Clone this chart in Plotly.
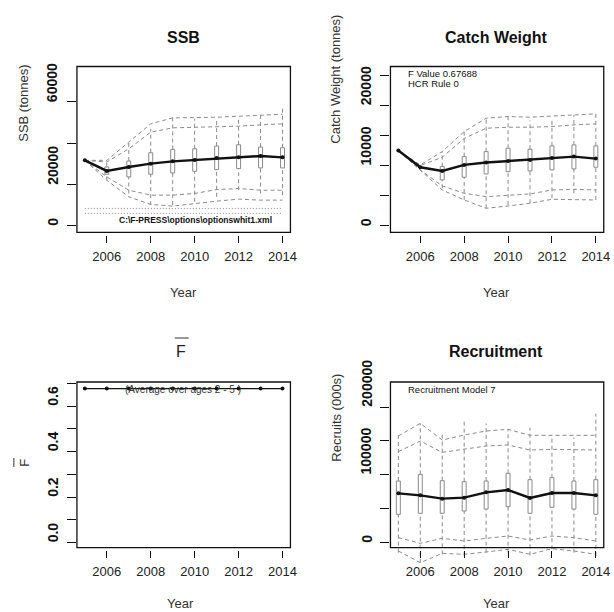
import plotly.graph_objects as go

W, H = 614, 612
FONT = "Liberation Sans, Arial, sans-serif"

years = [2005, 2006, 2007, 2008, 2009, 2010, 2011, 2012, 2013, 2014]
xtick_years = [2006, 2008, 2010, 2012, 2014]

# ---- SSB (tonnes) ----
ssb_median = [31760, 26630, 28550, 30160, 31280, 31920, 32880, 33200, 33840, 33200]
ssb_q1 = [None, 25020, 23740, 25020, 25660, 26470, 27270, 27750, 28070, 28070]
ssb_q3 = [None, 28550, 31440, 35450, 37050, 37370, 38660, 39300, 38180, 37850]
ssb_wlo = [None, 22140, 15720, 10100, 10100, 11710, 14120, 17320, 15720, 14920]
ssb_whi = [None, 30960, 41380, 47000, 52610, 51810, 51010, 51810, 54220, 56940]
ssb_env_uo = [31760, 31760, 40580, 49400, 52290, 52290, 52610, 53090, 53410, 54050]
ssb_env_ui = [31760, 30960, 37370, 45390, 47480, 47800, 47800, 48280, 48920, 49400]
ssb_env_li = [31760, 23740, 17320, 14920, 14920, 15720, 17640, 18120, 17320, 17320]
ssb_env_lo = [31760, 22140, 14120, 10430, 9620, 10910, 12030, 12990, 12510, 12510]
ssb_refpts = [8500, 6100]
ssb_ticks = [0, 20000, 40000, 60000]
ssb_labels = [0, 20000, 60000]

# ---- Catch weight (tonnes) ----
catch_median = [12520, 9750, 9140, 10140, 10530, 10800, 10970, 11300, 11520, 11190]
catch_q1 = [None, None, 7650, 8090, 8640, 9030, 9140, 9310, 9470, 9750]
catch_q3 = [None, None, 9860, 11520, 12350, 12910, 12740, 13300, 13460, 13300]
catch_wlo = [None, None, 6260, 4320, 2940, 3490, 3770, 4600, 5430, 4320]
catch_whi = [None, None, 12350, 15840, 17890, 18450, 17510, 17510, 18450, 18730]
catch_env_uo = [12520, 10140, 12350, 15670, 17890, 18170, 18060, 18280, 18450, 18620]
catch_env_ui = [12520, 10030, 11410, 14540, 16230, 16400, 16400, 16510, 16790, 16950]
catch_env_li = [12520, 9310, 6650, 5430, 4870, 5150, 5320, 5980, 6090, 5980]
catch_env_lo = [12520, 9200, 5980, 4320, 2940, 3320, 3770, 4430, 4430, 4320]
catch_ticks = [0, 5000, 10000, 15000, 20000, 25000]
catch_labels = [0, 10000, 20000]

# ---- Mean F ----
f_values = [0.677, 0.677, 0.677, 0.677, 0.677, 0.677, 0.677, 0.677, 0.677, 0.677]
f_ticks = [0.0, 0.1, 0.2, 0.3, 0.4, 0.5, 0.6, 0.7]
f_labels = ["0.0", "0.2", "0.4", "0.6"]
f_label_vals = [0.0, 0.2, 0.4, 0.6]

# ---- Recruitment (000s) ----
rec_median = [72730, 69780, 64860, 66340, 74200, 77640, 65850, 73220, 73220, 69780]
rec_q1 = [41770, 43240, 43240, 46680, 49630, 53070, 43240, 52090, 49630, 41770]
rec_q3 = [90910, 100740, 91400, 89930, 90910, 102210, 92870, 95820, 90910, 92870]
rec_wlo = [-14740, -29480, -17200, -19660, -14740, -14740, -18670, -9830, -14740, -19660]
rec_whi = [159700, 175900, 160700, 181800, 175900, 167100, 169500, 154800, 154800, 190200]
rec_env_uo = [157250, 175920, 151350, 158720, 164620, 167080, 158230, 158230, 158230, 158230]
rec_env_ui = [134150, 149880, 133170, 137590, 142510, 143980, 136610, 137590, 136610, 136610]
rec_env_li = [7370, -980, 6390, 2460, 6390, 9830, 3930, 9830, 7370, 2460]
rec_env_lo = [-12290, -29480, -15720, -17200, -13760, -9830, -17200, -8850, -12290, -17200]
rec_ticks = [0, 50000, 100000, 150000, 200000]
rec_labels = [0, 100000, 200000]

GRAY = "#8a8a8a"
DASH = "4px,3px"
BOX_HALF = 0.09


def px_x(p):
    return p / W


def px_y(p):
    return 1 - p / H


fig = go.Figure()


def add_panel(xa, ya, med, q1, q3, wlo, whi, envs):
    for env in envs:
        fig.add_trace(go.Scatter(x=years, y=env, mode="lines", xaxis=xa, yaxis=ya,
                                 line=dict(color=GRAY, width=1, dash=DASH), hoverinfo="skip"))
    wx, wy = [], []
    for yr, a, b, lo, hi in zip(years, q1, q3, wlo, whi):
        if lo is None or hi is None:
            continue
        if a is None:
            wx += [yr, yr, None]
            wy += [lo, hi, None]
        else:
            wx += [yr, yr, None, yr, yr, None]
            wy += [b, hi, None, lo, a, None]
    fig.add_trace(go.Scatter(x=wx, y=wy, mode="lines", xaxis=xa, yaxis=ya,
                             line=dict(color=GRAY, width=1, dash=DASH), hoverinfo="skip"))
    bx, by = [], []
    for yr, a, b in zip(years, q1, q3):
        if a is None:
            continue
        bx += [yr - BOX_HALF, yr + BOX_HALF, yr + BOX_HALF, yr - BOX_HALF, yr - BOX_HALF, None]
        by += [a, a, b, b, a, None]
    fig.add_trace(go.Scatter(x=bx, y=by, mode="lines", xaxis=xa, yaxis=ya,
                             line=dict(color=GRAY, width=1), hoverinfo="skip"))
    fig.add_trace(go.Scatter(x=years, y=med, mode="lines+markers", xaxis=xa, yaxis=ya,
                             line=dict(color="#111111", width=2.4),
                             marker=dict(color="#111111", size=4), hoverinfo="skip"))


add_panel("x", "y", ssb_median, ssb_q1, ssb_q3, ssb_wlo, ssb_whi,
          [ssb_env_uo, ssb_env_ui, ssb_env_li, ssb_env_lo])
for ref in ssb_refpts:
    fig.add_trace(go.Scatter(x=[years[0], years[-1]], y=[ref, ref], mode="lines", xaxis="x", yaxis="y",
                             line=dict(color=GRAY, width=1, dash="1px,2px"), hoverinfo="skip"))
add_panel("x2", "y2", catch_median, catch_q1, catch_q3, catch_wlo, catch_whi,
          [catch_env_uo, catch_env_ui, catch_env_li, catch_env_lo])
fig.add_trace(go.Scatter(x=years, y=f_values, mode="lines+markers", xaxis="x3", yaxis="y3",
                         line=dict(color="#111111", width=1.3),
                         marker=dict(color="#111111", size=4), hoverinfo="skip"))
add_panel("x4", "y4", rec_median, rec_q1, rec_q3, rec_wlo, rec_whi,
          [rec_env_uo, rec_env_ui, rec_env_li, rec_env_lo])

# panel geometry (pixels)
LEFT = (77.7, 293.3)
RIGHT = (394.3, 609.7)
TOP = (66.5, 232.3)
BOT = (382.0, 547.7)
XR = [2004.64, 2014.36]

xcommon = dict(range=XR, tickvals=xtick_years, ticks="outside", ticklen=7, tickwidth=1.2,
               tickcolor="#111", showline=False, showgrid=False, zeroline=False,
               tickfont=dict(family=FONT, size=13, color="#222"), ticklabelstandoff=2,
               anchor="free")
ycommon = dict(ticks="outside", ticklen=9, tickwidth=1.2, tickcolor="#111", showline=False,
               showgrid=False, zeroline=False, showticklabels=False)

layout = dict(
    width=W, height=H, autosize=False, margin=dict(l=0, r=0, t=0, b=0),
    paper_bgcolor="white", plot_bgcolor="white", showlegend=False,
    font=dict(family=FONT),
    xaxis=dict(domain=[px_x(LEFT[0]), px_x(LEFT[1])], position=px_y(235), **xcommon),
    yaxis=dict(domain=[px_y(TOP[1]), px_y(TOP[0])], range=[-3050, 77150], tickvals=ssb_ticks,
               anchor="x", **ycommon),
    xaxis2=dict(domain=[px_x(RIGHT[0]), px_x(RIGHT[1])], position=px_y(235), **xcommon),
    yaxis2=dict(domain=[px_y(TOP[1]), px_y(TOP[0])], range=[-1050, 26480], tickvals=catch_ticks,
                anchor="x2", **ycommon),
    xaxis3=dict(domain=[px_x(LEFT[0]), px_x(LEFT[1])], position=px_y(550), **xcommon),
    yaxis3=dict(domain=[px_y(BOT[1]), px_y(BOT[0])], range=[-0.022, 0.7057], tickvals=f_ticks,
                anchor="x3", **ycommon),
    xaxis4=dict(domain=[px_x(RIGHT[0]), px_x(RIGHT[1])], position=px_y(550), **xcommon),
    yaxis4=dict(domain=[px_y(566), px_y(BOT[0])], range=[-34400, 236860], tickvals=rec_ticks,
                anchor="x4", **ycommon),
)
fig.update_layout(**layout)

shapes = []
for (xl, xr_), (yt, yb) in [(LEFT, TOP), (RIGHT, TOP), (LEFT, BOT), (RIGHT, BOT)]:
    shapes.append(dict(type="rect", xref="paper", yref="paper", x0=px_x(xl), x1=px_x(xr_),
                       y0=px_y(yb), y1=px_y(yt), line=dict(color="#111", width=1.3)))
# overlines for F-bar (title and y label)
shapes.append(dict(type="line", xref="paper", yref="paper", x0=px_x(176.5), x1=px_x(190.5),
                   y0=px_y(338), y1=px_y(338), line=dict(color="#333", width=1)))
shapes.append(dict(type="line", xref="paper", yref="paper", x0=px_x(14), x1=px_x(14),
                   y0=px_y(458), y1=px_y(467), line=dict(color="#333", width=1)))
fig.update_layout(shapes=shapes)

anns = []


def ann(text, x, y, size, xref="paper", yref="paper", angle=0, xanchor="center",
        yanchor="middle", color="#111", yshift=0):
    anns.append(dict(text=text, x=x, y=y, xref=xref, yref=yref, showarrow=False,
                     textangle=angle, xanchor=xanchor, yanchor=yanchor, yshift=yshift,
                     font=dict(family=FONT, size=size, color=color)))


# titles
ann("<b>SSB</b>", px_x(185), px_y(37), 16)
ann("<b>Catch Weight</b>", px_x(501), px_y(37), 16)
ann("F", px_x(183), px_y(351), 16, color="#222")
ann("<b>Recruitment</b>", px_x(501), px_y(351), 16)

# x titles
for xc, yc in [(185, 292), (501, 292), (182, 603), (501, 603)]:
    ann("Year", px_x(xc), px_y(yc), 13, color="#333")

# y titles
ann("SSB (tonnes)", px_x(23), px_y(103), 13, angle=-90, color="#333")
ann("Catch Weight (tonnes)", px_x(339), px_y(79), 13, angle=-90, color="#333")
ann("F", px_x(24), px_y(463), 13, angle=-90, color="#333")
ann("Recruits (000s)", px_x(339), px_y(418), 13, angle=-90, color="#333")

# y tick labels (drawn from the tick's value upward)
for v in ssb_labels:
    ann("<b>%d</b>" % v, px_x(LEFT[0] - 24.5), v, 14, yref="y", angle=-90, yanchor="bottom", yshift=-2)
for v in catch_labels:
    ann("<b>%d</b>" % v, px_x(RIGHT[0] - 24.5), v, 14, yref="y2", angle=-90, yanchor="bottom", yshift=-2)
for t, v in zip(f_labels, f_label_vals):
    ann("<b>%s</b>" % t, px_x(LEFT[0] - 24.5), v, 14, yref="y3", angle=-90, yanchor="bottom", yshift=-2)
for v in rec_labels:
    ann("<b>%d</b>" % v, px_x(RIGHT[0] - 24.5), v, 14, yref="y4", angle=-90, yanchor="bottom", yshift=-2)

# in-panel notes
ann("<b>C:\\F-PRESS\\options\\optionswhit1.xml</b>", px_x(197), px_y(220), 8.5)
ann("F Value 0.67688", px_x(410), px_y(73), 9.5, xanchor="left")
ann("HCR Rule 0", px_x(410), px_y(84), 9.5, xanchor="left")
ann("(Average over ages 2 - 5 )", px_x(185), px_y(389), 10, color="#333")
ann("Recruitment Model 7", px_x(410), px_y(389), 9.5, xanchor="left")

fig.update_layout(annotations=anns)
fig.write_html("out.html")
